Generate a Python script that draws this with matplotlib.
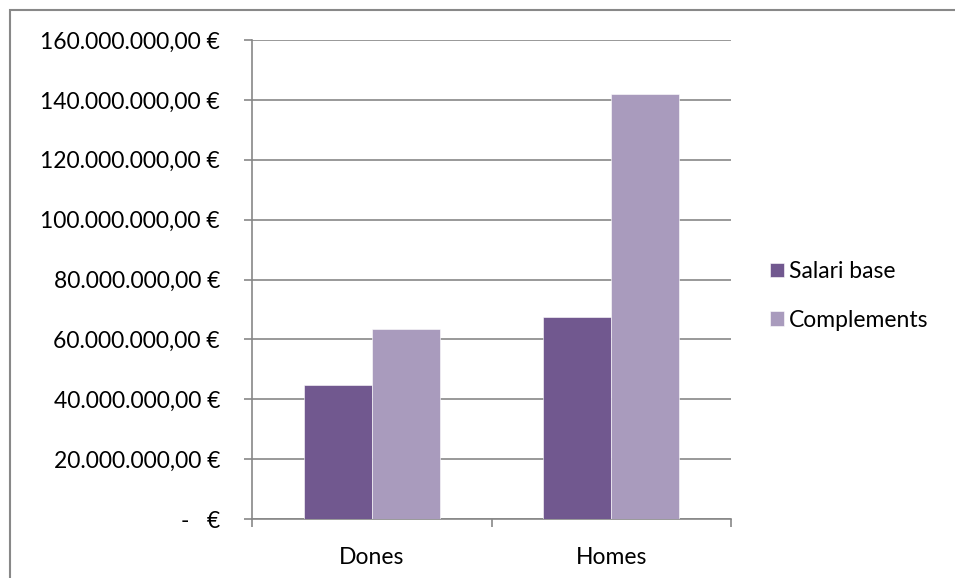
import matplotlib
matplotlib.use("Agg")
import matplotlib.pyplot as plt
from matplotlib.patches import Rectangle
import numpy as np

categories = ["Dones", "Homes"]
series = ["Salari base", "Complements"]
salari_base = [44.7e6, 67.4e6]
complements = [63.3e6, 142.1e6]
colors = ["#71588F", "#A99BBD"]
yticks = [0, 20e6, 40e6, 60e6, 80e6, 100e6, 120e6, 140e6, 160e6]


def euro(v):
    if v == 0:
        return "-   €"
    s = "{:,.2f}".format(v)
    s = s.replace(",", "X").replace(".", ",").replace("X", ".")
    return s + " €"


plt.rcParams["font.family"] = ["Lato", "DejaVu Sans"]
FS = 16.5
W, H = 955, 578
fig = plt.figure(figsize=(W / 100, H / 100), dpi=100)

# chart frame (only left and top edges fall inside the canvas)
fig.patches.append(Rectangle((10 / W, -0.1), 1.2, (H - 10) / H + 0.1,
                             transform=fig.transFigure, fill=False,
                             edgecolor="#888888", linewidth=1.5))

ax = fig.add_axes([252 / W, (H - 519) / H, 479 / W, 479 / H])
x = np.arange(len(categories))
w = 0.284
ax.bar(x - w / 2, salari_base, w, color=colors[0], label=series[0],
       edgecolor="#ffffff", linewidth=0.4, zorder=3)
ax.bar(x + w / 2, complements, w, color=colors[1], label=series[1],
       edgecolor="#ffffff", linewidth=0.4, zorder=3)

ax.set_xlim(-0.5, 1.5)
ax.set_ylim(0, 160e6)
ax.set_yticks(yticks)
ax.set_yticklabels([euro(v) for v in yticks], fontsize=FS)
ax.yaxis.grid(True, color="#878787", linewidth=1.2, zorder=0)

ax.set_xticks([-0.5, 0.5, 1.5])
ax.set_xticklabels([])
ax.set_xticks(x, minor=True)
ax.set_xticklabels(categories, minor=True, fontsize=FS)
ax.tick_params(axis="x", which="minor", length=0, pad=20)
ax.tick_params(axis="x", which="major", length=6, color="#878787", width=1.2)
ax.tick_params(axis="y", length=6, color="#878787", width=1.2, pad=17)

for side in ["top", "right"]:
    ax.spines[side].set_visible(False)
for side in ["left", "bottom"]:
    ax.spines[side].set_color("#878787")
    ax.spines[side].set_linewidth(1.2)

ax.legend(loc="center left", bbox_to_anchor=(761 / W, (H - 296) / H),
          bbox_transform=fig.transFigure, frameon=False, fontsize=FS,
          handlelength=0.6, handleheight=0.6, handletextpad=0.2,
          labelspacing=1.2, borderaxespad=0)

fig.savefig("out.png", dpi=100)
